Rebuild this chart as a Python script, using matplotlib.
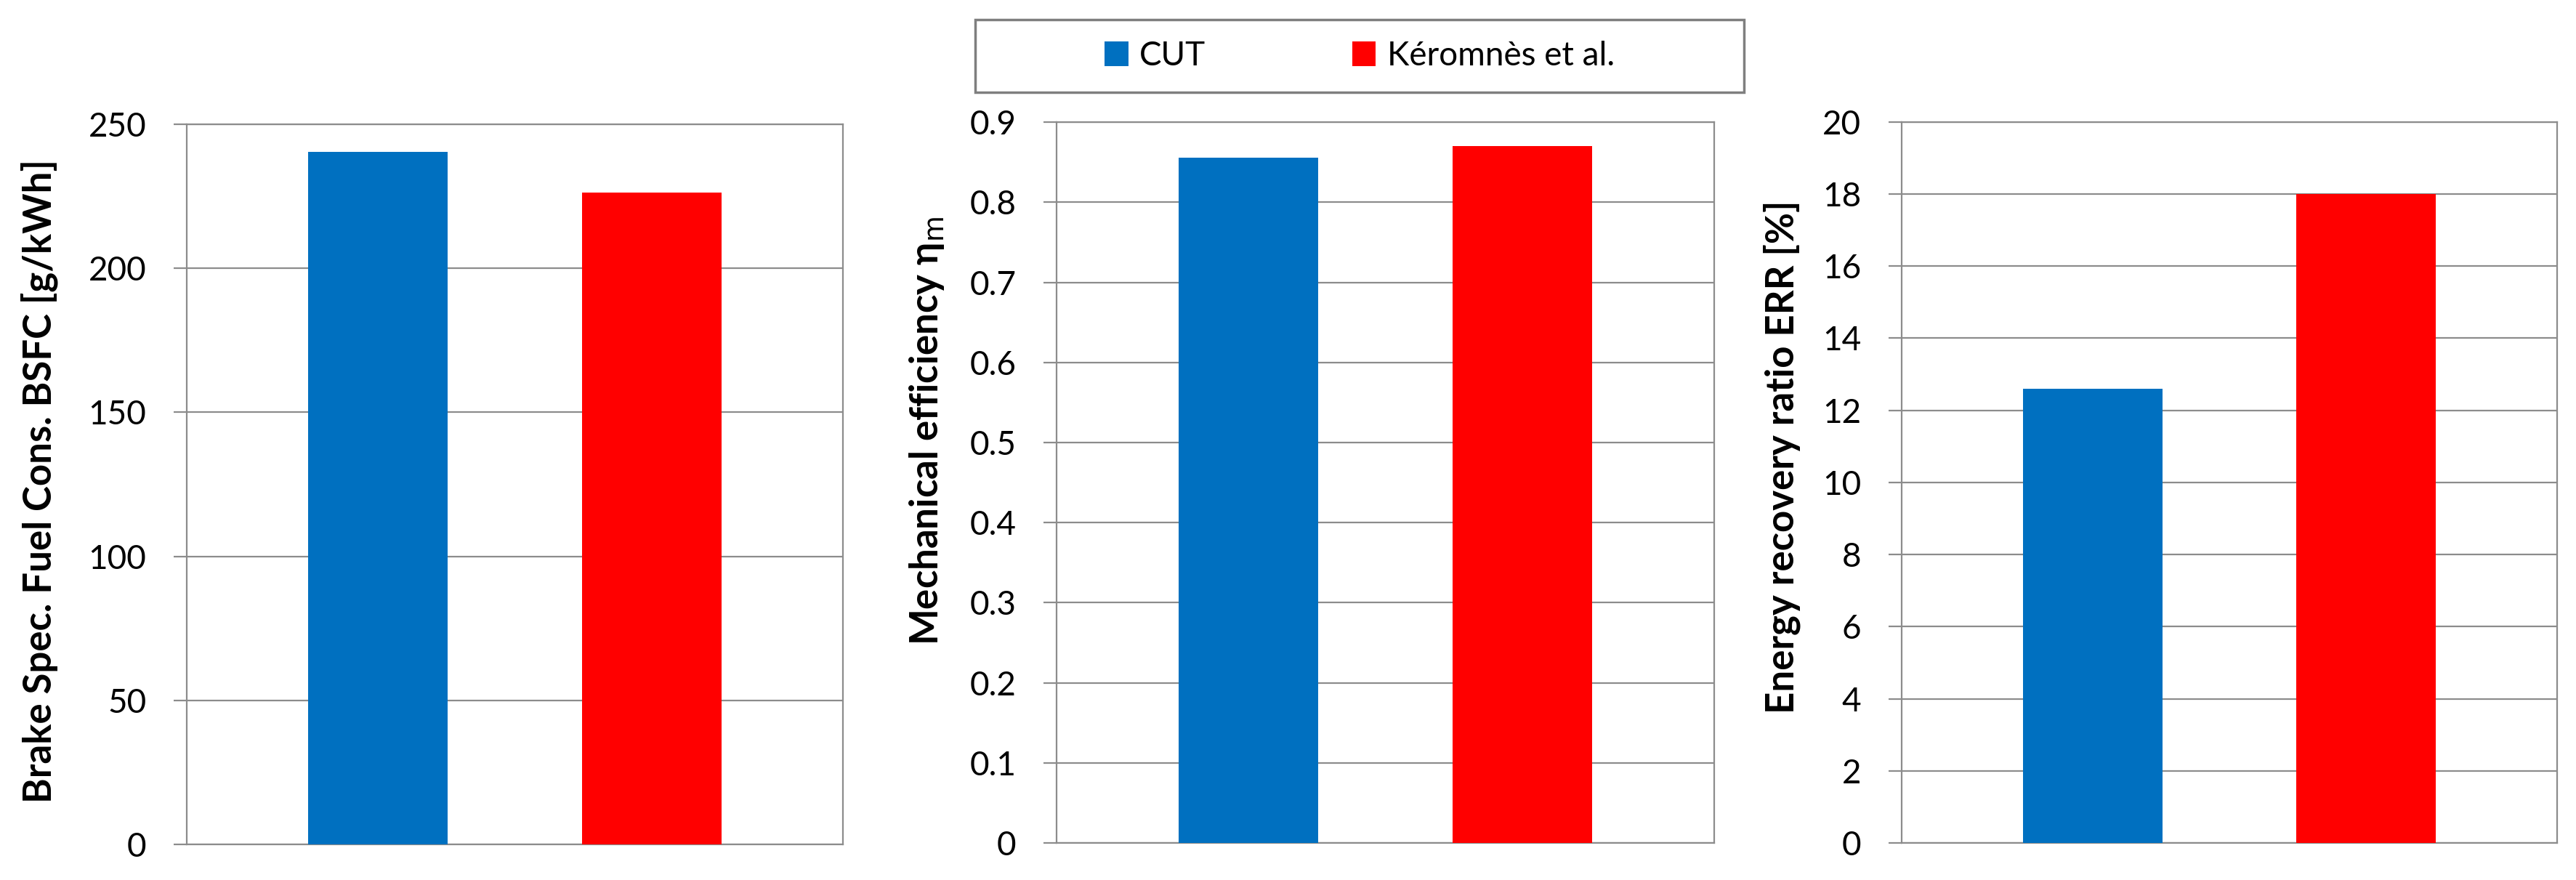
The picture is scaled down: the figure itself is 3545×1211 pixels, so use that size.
import matplotlib
matplotlib.use("Agg")
import matplotlib.pyplot as plt
from matplotlib.patches import Patch, Rectangle

plt.rcParams['font.family'] = ['Lato', 'DejaVu Sans']

series = ['CUT', 'Kéromnès et al.']
colors = ['#0070C0', '#FF0000']

bsfc = [240.4, 226.2]
eta_m = [0.856, 0.870]
err = [12.6, 18.0]

ylabels = ['Brake Spec. Fuel Cons. BSFC [g/kWh]',
           'Mechanical efficiency η$_\\mathrm{m}$',
           'Energy recovery ratio ERR [%]']
yticks = [[0, 50, 100, 150, 200, 250],
          [0, 0.1, 0.2, 0.3, 0.4, 0.5, 0.6, 0.7, 0.8, 0.9],
          [0, 2, 4, 6, 8, 10, 12, 14, 16, 18, 20]]
yticklabels = [[str(v) for v in yticks[0]],
               ['0'] + ['%.1f' % v for v in yticks[1][1:]],
               [str(v) for v in yticks[2]]]
data = [bsfc, eta_m, err]

gray = '#8c8c8c'
fig = plt.figure(figsize=(35.45, 12.11), dpi=100)

rects = [[0.0725, 0.0405, 0.2547, 0.8183],
         [0.4102, 0.0421, 0.2553, 0.8190],
         [0.7382, 0.0421, 0.2544, 0.8195]]
labpos = [(-0.196, 0.505), (-0.168, 0.572), (-0.154, 0.535)]

for i in range(3):
    ax = fig.add_axes(rects[i])
    ax.bar([0, 1], data[i], width=0.51, color=colors, zorder=3)
    ax.set_xlim(-0.7, 1.7)
    ax.set_ylim(yticks[i][0], yticks[i][-1])
    ax.set_yticks(yticks[i])
    ax.set_yticklabels(yticklabels[i])
    ax.set_xticks([])
    ax.grid(axis='y', color=gray, linewidth=1.6, zorder=0)
    for s in ax.spines.values():
        s.set_color(gray)
        s.set_linewidth(1.6)
    ax.tick_params(axis='y', length=13, width=1.6, color=gray, pad=27,
                   labelsize=33)
    ax.set_ylabel(ylabels[i], fontsize=38, fontweight='bold')
    ax.yaxis.set_label_coords(*labpos[i])

# legend box
fig.patches.append(Rectangle((0.3786, 0.895), 0.2985, 0.0826,
                             transform=fig.transFigure, fill=False,
                             edgecolor='#7f7f7f', linewidth=2.5))
handles = [Patch(facecolor=c) for c in colors]
fig.legend(handles, series, loc='center', bbox_to_anchor=(0.5278, 0.9364),
           ncol=2, frameon=False, fontsize=33, handlelength=0.7,
           handleheight=0.76, handletextpad=0.34, columnspacing=4.4)

plt.savefig('out.png')
